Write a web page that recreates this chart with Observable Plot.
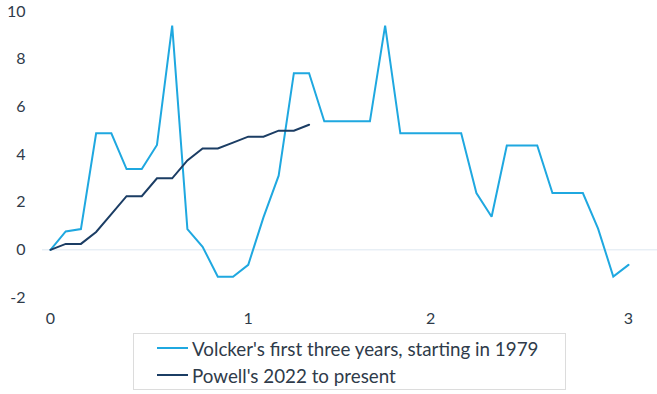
<!DOCTYPE html>
<html>
<head>
<meta charset="utf-8">
<script src="https://cdn.jsdelivr.net/npm/d3@7"></script>
<script src="https://cdn.jsdelivr.net/npm/@observablehq/plot@0.6"></script>
<style>
  html, body { margin: 0; padding: 0; background: #fff; }
  body { font-family: Lato, "Open Sans", sans-serif; color: #2f3b4a; width: 657px; }
  #chart svg { display: block; }
  .legend {
    box-sizing: border-box;
    margin-left: 133px; margin-top: 3px;
    width: 433px; height: 57px;
    border: 1px solid #dcdcdc;
    padding-top: 0.5px;
  }
  .legend .row { height: 27px; display: flex; align-items: center; font-size: 18.8px; color: #2f3b4a; white-space: nowrap; }
  .legend svg { margin-left: 23px; margin-right: 4px; }
</style>
</head>
<body>
<div id="chart"></div>
<div class="legend" id="legend"></div>
<script>
// Series names
const seriesNames = ["Volcker's first three years, starting in 1979", "Powell's 2022 to present"];
const seriesColors = ["#1fa8e0", "#1b3d64"];

// Volcker: change in policy rate (pp), by period index
const volcker = [0, 0.77, 0.87, 4.89, 4.89, 3.39, 3.39, 4.40, 9.41, 0.87,
  0.13, -1.13, -1.13, -0.63, 1.36, 3.11, 7.41, 7.41, 5.39, 5.39,
  5.39, 5.39, 9.41, 4.89, 4.89, 4.89, 4.89, 4.89, 2.38, 1.39,
  4.38, 4.38, 4.38, 2.38, 2.38, 2.38, 0.89, -1.12, -0.63];

// Powell: change in policy rate (pp), by period index
const powell = [0, 0.25, 0.25, 0.75, 1.5, 2.25, 2.25, 3.0, 3.0, 3.75,
  4.25, 4.25, 4.5, 4.75, 4.75, 5.0, 5.0, 5.25];

// x axis category labels (years)
const xTickIndex = [0, 13, 25, 38];
const xTickLabels = ["0", "1", "2", "3"];
const yTicks = [-2, 0, 2, 4, 6, 8, 10];

const rows = [
  ...volcker.map((v, i) => ({i, v, s: seriesNames[0]})),
  ...powell.map((v, i) => ({i, v, s: seriesNames[1]}))
];

const plot = Plot.plot({
  width: 657,
  height: 330,
  marginTop: 11,
  marginBottom: 33,
  marginLeft: 50,
  marginRight: 29,
  style: {fontFamily: "Lato, sans-serif", fontSize: "16px", color: "#2f3b4a", background: "#fff"},
  x: {domain: [0, volcker.length - 1], label: null},
  y: {domain: [-2, 10], label: null},
  color: {domain: seriesNames, range: seriesColors},
  marks: [
    Plot.ruleY([0], {stroke: "#dde7f1", strokeWidth: 1, insetLeft: -8, insetRight: -29}),
    Plot.axisY({ticks: yTicks, tickSize: 0, tickPadding: 25, label: null, fontSize: 16,
      tickFormat: d => String(d)}),
    Plot.axisX({ticks: xTickIndex, tickSize: 0, tickPadding: 15, label: null, fontSize: 16,
      tickFormat: d => xTickLabels[xTickIndex.indexOf(d)]}),
    Plot.line(rows, {x: "i", y: "v", z: "s", stroke: "s", strokeWidth: 2, strokeLinejoin: "miter", strokeMiterlimit: 2})
  ]
});
document.getElementById("chart").appendChild(plot);

const legend = document.getElementById("legend");
seriesNames.forEach((name, k) => {
  const row = document.createElement("div");
  row.className = "row";
  row.innerHTML = `<svg width="31" height="4"><line x1="0" x2="31" y1="2" y2="2" stroke="${seriesColors[k]}" stroke-width="2"/></svg><span>${name}</span>`;
  legend.appendChild(row);
});
</script>
</body>
</html>
